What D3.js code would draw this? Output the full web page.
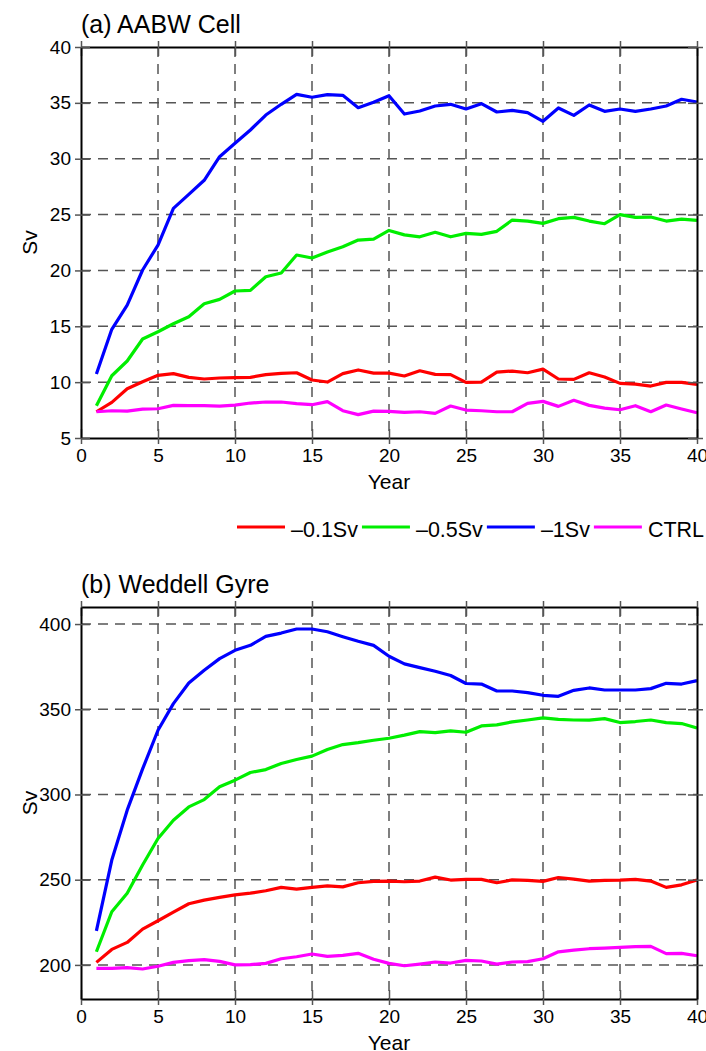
<!DOCTYPE html>
<html>
<head>
<meta charset="utf-8">
<script src="https://cdn.jsdelivr.net/npm/d3@7"></script>
<style>
  body { margin: 0; background: #fff; }
  svg { display: block; font-family: 'Liberation Sans', Arial, Helvetica, sans-serif; }
</style>
</head>
<body>
<svg id="chart" width="706" height="1051"></svg>
<script>
const years = d3.range(1, 41);
const seriesNames = ['–0.1Sv', '–0.5Sv', '–1Sv', 'CTRL'];
const seriesColors = ['#ff0000', '#00ee00', '#0000ff', '#ff00ff'];

// (a) AABW Cell, Sv
const aabwRed = [7.35, 8.19, 9.41, 10.04, 10.61, 10.76, 10.43, 10.28, 10.37, 10.40,
  10.43, 10.67, 10.79, 10.84, 10.19, 10.01, 10.76, 11.09, 10.81, 10.81,
  10.55, 11.02, 10.70, 10.67, 9.98, 10.01, 10.90, 10.99, 10.84, 11.17,
  10.28, 10.25, 10.84, 10.46, 9.89, 9.83, 9.65, 9.98, 9.98, 9.80];
const aabwGreen = [7.89, 10.57, 11.89, 13.86, 14.51, 15.23, 15.86, 17.02, 17.41, 18.16,
  18.21, 19.44, 19.77, 21.38, 21.11, 21.65, 22.12, 22.72, 22.81, 23.58,
  23.18, 23.01, 23.41, 23.01, 23.32, 23.23, 23.50, 24.51, 24.42, 24.21,
  24.63, 24.75, 24.42, 24.18, 24.99, 24.75, 24.78, 24.42, 24.60, 24.48];
const aabwBlue = [10.73, 14.73, 16.90, 20.04, 22.27, 25.56, 26.81, 28.07, 30.18, 31.38,
  32.57, 33.91, 34.87, 35.76, 35.50, 35.73, 35.67, 34.57, 35.05, 35.64,
  34.00, 34.27, 34.72, 34.87, 34.45, 34.93, 34.18, 34.33, 34.12, 33.35,
  34.54, 33.88, 34.81, 34.24, 34.45, 34.24, 34.45, 34.72, 35.32, 35.08];
const aabwCtrl = [7.35, 7.44, 7.41, 7.59, 7.62, 7.92, 7.89, 7.89, 7.86, 7.95,
  8.13, 8.22, 8.22, 8.07, 7.98, 8.25, 7.44, 7.09, 7.41, 7.38,
  7.29, 7.35, 7.20, 7.86, 7.50, 7.44, 7.35, 7.35, 8.10, 8.28,
  7.83, 8.37, 7.92, 7.68, 7.53, 7.89, 7.35, 7.95, 7.59, 7.26];

// (b) Weddell Gyre, Sv
const weddellRed = [201.5, 209.1, 213.2, 221.0, 225.9, 231.0, 235.9, 238.0, 239.6, 241.1,
  242.1, 243.5, 245.5, 244.5, 245.5, 246.4, 245.8, 248.2, 249.0, 249.2,
  248.8, 249.2, 251.5, 249.8, 250.2, 250.2, 248.2, 249.9, 249.6, 249.0,
  251.3, 250.3, 249.2, 249.6, 249.8, 250.2, 249.2, 245.5, 247.0, 249.8];
const weddellGreen = [207.7, 231.2, 242.0, 258.6, 274.2, 284.9, 292.7, 297.0, 304.5, 308.4,
  312.9, 314.6, 318.2, 320.5, 322.5, 326.4, 329.3, 330.4, 331.8, 333.0,
  334.8, 336.9, 336.3, 337.3, 336.5, 340.2, 340.8, 342.6, 343.7, 344.9,
  344.1, 343.7, 343.6, 344.5, 342.2, 342.8, 343.7, 342.2, 341.6, 339.0];
const weddellBlue = [220.0, 261.5, 290.8, 315.0, 337.7, 353.3, 365.4, 372.9, 379.7, 384.6,
  387.5, 392.8, 394.7, 397.1, 397.1, 395.5, 392.6, 389.9, 387.5, 381.1,
  376.6, 374.4, 372.3, 369.8, 365.1, 364.8, 360.7, 360.7, 359.8, 358.2,
  357.6, 361.1, 362.5, 361.3, 361.3, 361.3, 362.1, 365.2, 364.8, 366.8];
const weddellCtrl = [198.0, 198.0, 198.4, 197.6, 199.2, 201.5, 202.5, 203.1, 202.1, 200.0,
  200.2, 200.9, 203.6, 204.8, 206.4, 205.0, 205.6, 206.8, 203.3, 200.9,
  199.5, 200.5, 201.7, 201.1, 202.7, 202.3, 200.5, 201.7, 201.9, 203.6,
  207.7, 208.7, 209.5, 209.9, 210.3, 210.7, 210.9, 206.6, 206.8, 205.4];

const xTicks = [0, 5, 10, 15, 20, 25, 30, 35, 40];
const aabwTicks = [5, 10, 15, 20, 25, 30, 35, 40];
const weddellTicks = [200, 250, 300, 350, 400];

const svg = d3.select('#chart');
const plotLeft = 81;
const plotRight = 697;

const drawPanel = (top, bottom, domain, yTicks, title, series) => {
  const x = d3.scaleLinear().domain([0, 40]).range([plotLeft, plotRight]);
  const y = d3.scaleLinear().domain(domain).range([bottom, top]);
  const g = svg.append('g');

  // dashed grid
  g.selectAll('.vgrid')
    .data(xTicks.filter(t => t > 0 && t < 40))
    .enter()
    .append('line')
    .attr('x1', d => x(d)).attr('x2', d => x(d))
    .attr('y1', top).attr('y2', bottom)
    .attr('stroke', '#555').attr('stroke-width', 1.5)
    .attr('stroke-dasharray', '10,7');
  g.selectAll('.hgrid')
    .data(yTicks.filter(t => t > domain[0] && t < domain[1]))
    .enter()
    .append('line')
    .attr('x1', plotLeft).attr('x2', plotRight)
    .attr('y1', d => y(d)).attr('y2', d => y(d))
    .attr('stroke', '#555').attr('stroke-width', 1.5)
    .attr('stroke-dasharray', '10,7');

  // series lines
  const line = d3.line()
    .x((d, i) => x(years[i]))
    .y(d => y(d));
  g.selectAll('.series')
    .data(series)
    .enter()
    .append('path')
    .attr('d', line)
    .attr('fill', 'none')
    .attr('stroke', (d, i) => seriesColors[i])
    .attr('stroke-width', 3.2)
    .attr('stroke-linejoin', 'round');

  // axes; ticks cross the frame on all four sides
  const styleAxis = (sel, attr, inner) => {
    sel.select('.domain').attr('stroke', '#000').attr('stroke-width', 2);
    sel.selectAll('.tick line')
      .attr('stroke', '#555').attr('stroke-width', 1.5)
      .attr(attr, inner);
    sel.selectAll('.tick text')
      .attr('fill', '#000')
      .style('font-size', '19px')
      .style('font-family', "'Liberation Sans', Arial, sans-serif");
  };
  g.append('g')
    .attr('transform', `translate(0,${bottom})`)
    .call(d3.axisBottom(x).tickValues(xTicks).tickSize(6).tickSizeOuter(0).tickPadding(4))
    .call(styleAxis, 'y1', -9)
    .call(a => a.selectAll('.tick text').attr('dy', '0.72em'));
  g.append('g')
    .attr('transform', `translate(0,${top})`)
    .call(d3.axisTop(x).tickValues(xTicks).tickSize(6).tickSizeOuter(0).tickFormat(''))
    .call(styleAxis, 'y1', 9);
  g.append('g')
    .attr('transform', `translate(${plotLeft},0)`)
    .call(d3.axisLeft(y).tickValues(yTicks).tickSize(6).tickSizeOuter(0).tickPadding(4))
    .call(styleAxis, 'x1', 9);
  g.append('g')
    .attr('transform', `translate(${plotRight},0)`)
    .call(d3.axisRight(y).tickValues(yTicks).tickSize(6).tickSizeOuter(0).tickFormat(''))
    .call(styleAxis, 'x1', -9);

  g.append('text')
    .attr('x', plotLeft)
    .attr('y', top - 14)
    .style('font-size', '25px')
    .text(title);
  g.append('text')
    .attr('x', (plotLeft + plotRight) / 2)
    .attr('y', bottom + 51)
    .attr('text-anchor', 'middle')
    .style('font-size', '21px')
    .text('Year');
  g.append('text')
    .attr('transform', `translate(37,${(top + bottom) / 2}) rotate(-90)`)
    .attr('text-anchor', 'middle')
    .style('font-size', '21px')
    .text('Sv');
};

drawPanel(47, 438, [5, 40], aabwTicks, '(a) AABW Cell',
  [aabwRed, aabwGreen, aabwBlue, aabwCtrl]);
drawPanel(607, 999, [180, 410], weddellTicks, '(b) Weddell Gyre',
  [weddellRed, weddellGreen, weddellBlue, weddellCtrl]);

// legend, chained left to right
const legend = svg.append('g').attr('transform', 'translate(0,527)');
let cursor = 237;
seriesNames.forEach((name, i) => {
  legend.append('line')
    .attr('x1', cursor).attr('x2', cursor + 48)
    .attr('stroke', seriesColors[i]).attr('stroke-width', 3);
  const t = legend.append('text')
    .attr('x', cursor + 54)
    .attr('y', 10)
    .style('font-size', '21.5px')
    .text(name);
  cursor += 54 + t.node().getComputedTextLength() + 4;
});
</script>
</body>
</html>
